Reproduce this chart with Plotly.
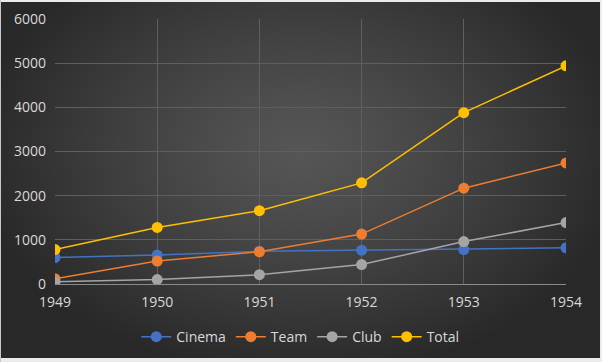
import base64, struct, zlib
import numpy as np
import plotly.graph_objects as go

years = ["1949", "1950", "1951", "1952", "1953", "1954"]
cinema = [600, 655, 740, 765, 780, 820]
team = [120, 520, 730, 1130, 2170, 2740]
club = [50, 100, 210, 440, 960, 1390]
total = [780, 1280, 1660, 2290, 3880, 4940]
y_ticks = [0, 1000, 2000, 3000, 4000, 5000, 6000]

W, H = 602, 362
L, R, T, B = 55, 36, 19, 78
PW, PH = W - L - R, H - T - B


def make_bg():
    yy, xx = np.mgrid[0:H, 0:W].astype(float)
    cx, cy = 300.0, 150.0
    d = np.sqrt(((xx - cx) / 330.0) ** 2 + ((yy - cy) / 230.0) ** 2)
    d = np.clip(d, 0, 1)
    v = 0x56 - (0x56 - 0x28) * d ** 1.2
    img = np.stack([v, v, v], axis=-1)
    img[:2, :, :] = 235
    img[-4:, :, :] = 235
    img[:, :1, :] = 200
    img[:, -2:, :] = 235
    img = img.clip(0, 255).astype(np.uint8)
    raw = b"".join(b"\x00" + img[r].tobytes() for r in range(H))

    def chunk(t, data):
        c = struct.pack(">I", len(data)) + t + data
        return c + struct.pack(">I", zlib.crc32(t + data) & 0xFFFFFFFF)

    png = b"\x89PNG\r\n\x1a\n" + chunk(b"IHDR", struct.pack(">IIBBBBB", W, H, 8, 2, 0, 0, 0))
    png += chunk(b"IDAT", zlib.compress(raw, 9)) + chunk(b"IEND", b"")
    return "data:image/png;base64," + base64.b64encode(png).decode()


series = [
    ("Cinema", cinema, "#4472C4"),
    ("Team", team, "#ED7D31"),
    ("Club", club, "#A5A5A5"),
    ("Total", total, "#FFC000"),
]

fig = go.Figure()
for name, vals, col in series:
    fig.add_trace(go.Scatter(
        x=years, y=vals, name=name, mode="lines+markers",
        line=dict(color=col, width=1.5),
        marker=dict(color=col, size=11),
    ))

fig.update_layout(
    width=W, height=H,
    margin=dict(l=L, r=R, t=T, b=B, autoexpand=False),
    paper_bgcolor="#2a2a2a",
    plot_bgcolor="rgba(0,0,0,0)",
    font=dict(family="Open Sans", size=13, color="#d9d9d9"),
    images=[dict(source=make_bg(), xref="paper", yref="paper",
                 x=-L / PW, y=1 + T / PH, sizex=W / PW, sizey=H / PH,
                 xanchor="left", yanchor="top", sizing="stretch", layer="below")],
    legend=dict(orientation="h", x=0.48, xanchor="center", y=-0.14, yanchor="top",
                font=dict(size=14, color="#d9d9d9"), bgcolor="rgba(0,0,0,0)"),
    showlegend=True,
)
fig.update_xaxes(
    type="category", range=[0, 5], showgrid=True, gridcolor="#5f5f5f", gridwidth=1,
    showline=False, zeroline=False, ticks="", tickfont=dict(size=14, color="#d9d9d9"),
    ticklabelstandoff=8, automargin=False,
)
fig.update_yaxes(
    range=[0, 6000], tickvals=y_ticks, showgrid=True, gridcolor="#5f5f5f", gridwidth=1,
    zeroline=True, zerolinecolor="#8a8a8a", zerolinewidth=1,
    ticks="", tickfont=dict(size=14, color="#d9d9d9"), ticklabelstandoff=8,
    automargin=False,
)

fig.write_html("out.html", config={"displayModeBar": False},
               post_script="document.body.style.margin='0';document.body.style.overflow='hidden';")
